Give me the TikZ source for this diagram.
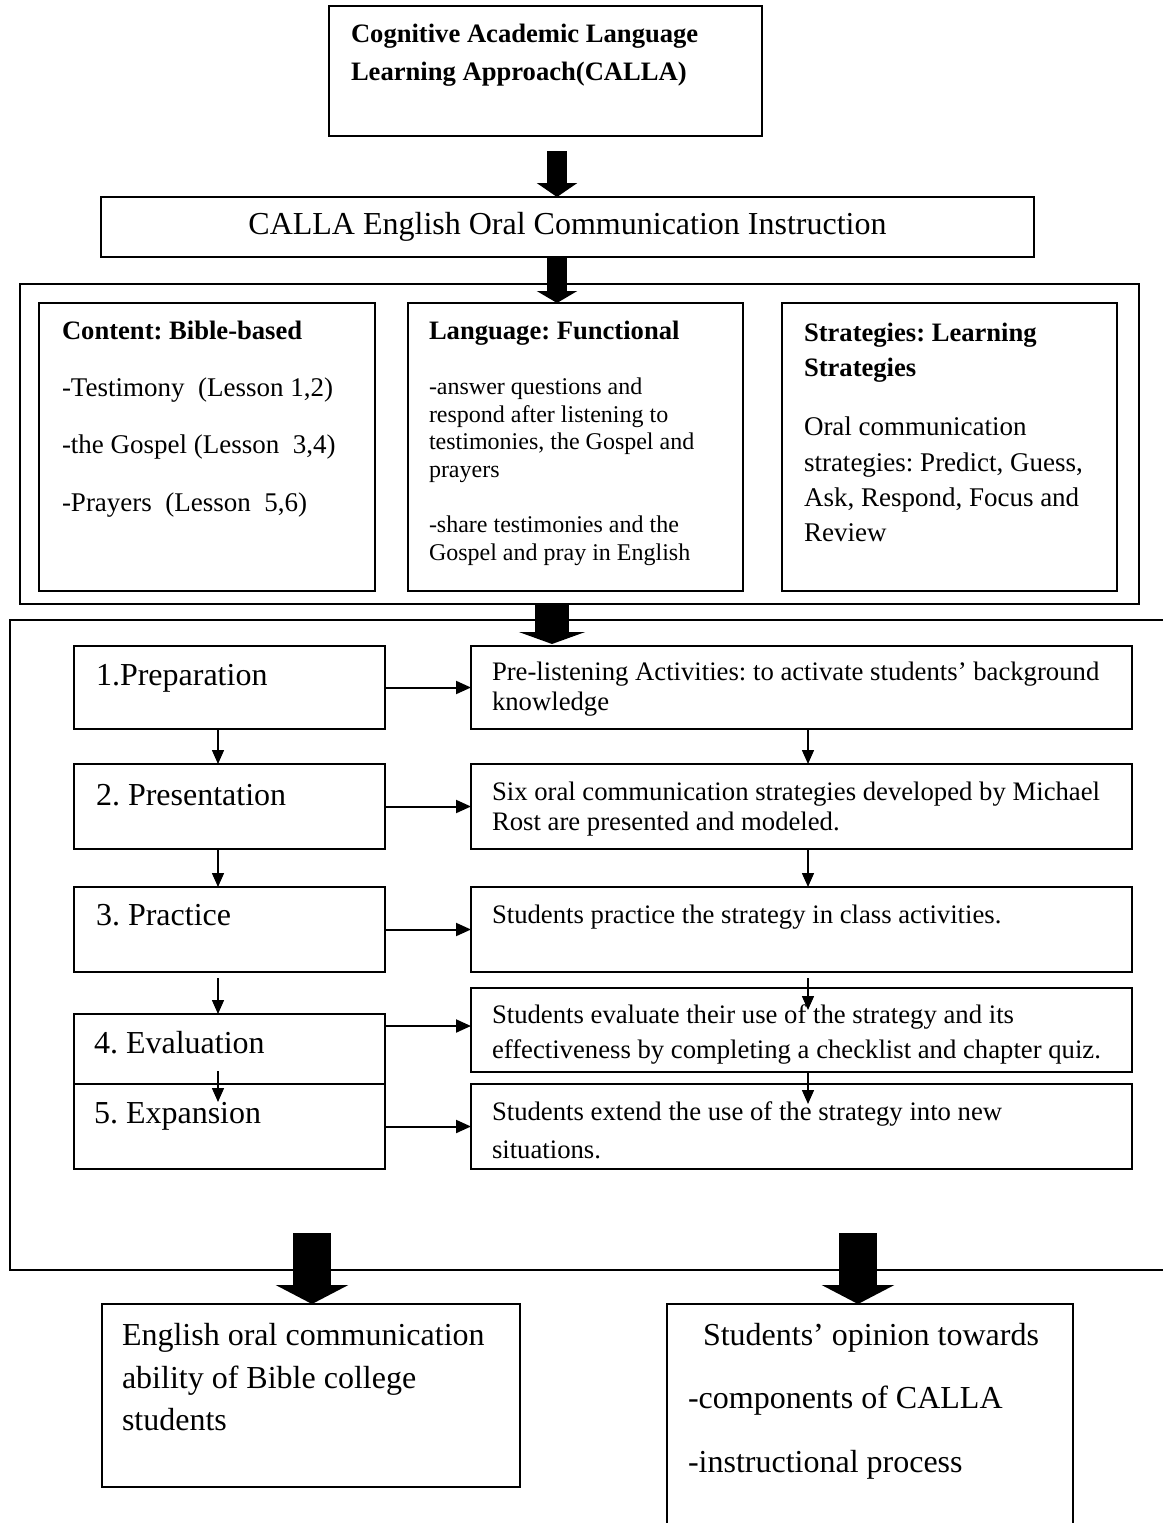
\documentclass[tikz,border=0pt]{standalone}
\usepackage{fontspec}
\setmainfont{Liberation Serif}
\usetikzlibrary{arrows.meta,calc}
\frenchspacing
\newcommand\szT{\fontsize{26.6}{32}\selectfont\bfseries}
\newcommand\szL{\fontsize{32}{38}\selectfont}
\newcommand\szM{\fontsize{27}{32}\selectfont}
\newcommand\szS{\fontsize{24}{28}\selectfont}
\newcommand\szR{\fontsize{26.7}{32}\selectfont}
\begin{document}
\begin{tikzpicture}[x=1pt,y=-1pt,
  bx/.style={draw,line width=1.9pt,inner sep=0pt,outer sep=0pt},
  tx/.style={inner sep=0pt,outer sep=0pt,anchor=base west},
  big/.style n args={3}{line width=#1,-{Triangle[width=#2,length=#3]}},
  sv/.style={line width=1.5pt,-{Triangle[width=12pt,length=14pt]}},
  sh/.style={line width=2pt,-{Triangle[width=13pt,length=15pt]}}]
\fill[white] (0,0) rectangle (1162,1523);
\useasboundingbox (0,0) rectangle (1162,1523);
% boxes
\node[bx,minimum width=433pt,minimum height=130pt] (top) at (545.5,71) {};
\node[bx,minimum width=933pt,minimum height=60pt,font=\szL] (instr) at (567.5,227) {CALLA English Oral Communication Instruction};
\node[bx,minimum width=1119pt,minimum height=320pt] (mid) at (579.5,444) {};
\node[bx,minimum width=336pt,minimum height=288pt] (cont) at (207,447) {};
\node[bx,minimum width=335pt,minimum height=288pt] (lang) at (575.5,447) {};
\node[bx,minimum width=335pt,minimum height=288pt] (strat) at (949.5,447) {};
\node[bx,minimum width=1165pt,minimum height=650pt] (low) at (592.5,945) {};
\node[bx,minimum width=311pt,minimum height=83pt] (s1) at (229.5,687.5) {};
\node[bx,minimum width=311pt,minimum height=85pt] (s2) at (229.5,806.5) {};
\node[bx,minimum width=311pt,minimum height=85pt] (s3) at (229.5,929.5) {};
\node[bx,minimum width=311pt,minimum height=70pt] (s4) at (229.5,1049) {};
\node[bx,minimum width=311pt,minimum height=85pt] (s5) at (229.5,1126.5) {};
\node[bx,minimum width=661pt,minimum height=83pt] (r1) at (801.5,687.5) {};
\node[bx,minimum width=661pt,minimum height=85pt] (r2) at (801.5,806.5) {};
\node[bx,minimum width=661pt,minimum height=85pt] (r3) at (801.5,929.5) {};
\node[bx,minimum width=661pt,minimum height=84pt] (r4) at (801.5,1030) {};
\node[bx,minimum width=661pt,minimum height=85pt] (r5) at (801.5,1126.5) {};
\node[bx,minimum width=418pt,minimum height=183pt] (res1) at (311,1395.5) {};
\node[bx,minimum width=406pt,minimum height=240pt] (res2) at (870,1424) {};
% texts
\node[tx,font=\szT] (t1) at (351,42) {Cognitive Academic Language};
\node[tx,font=\szT] (t2) at (351,80) {Learning Approach(CALLA)};
\node[tx,font=\szT] (c0) at (62,339) {Content: Bible-based};
\node[tx,font=\szM] (c1) at (62,396) {-Testimony\ \ (Lesson 1,2)};
\node[tx,font=\szM] (c2) at (62,453) {-the Gospel (Lesson\ \ 3,4)};
\node[tx,font=\szM] (c3) at (62,511) {-Prayers\ \ (Lesson\ \ 5,6)};
\node[tx,font=\szT] (l0) at (429,339) {Language: Functional};
\node[tx,font=\szS] (l1) at (429,394) {-answer questions and};
\node[tx,font=\szS] (l2) at (429,422) {respond after listening to};
\node[tx,font=\szS] (l3) at (429,449) {testimonies, the Gospel and};
\node[tx,font=\szS] (l4) at (429,477) {prayers};
\node[tx,font=\szS] (l5) at (429,532) {-share testimonies and the};
\node[tx,font=\szS] (l6) at (429,560) {Gospel and pray in English};
\node[tx,font=\szT] (g0) at (804,341) {Strategies: Learning};
\node[tx,font=\szT] (g1) at (804,376) {Strategies};
\node[tx,font=\szM] (g2) at (804,435) {Oral communication};
\node[tx,font=\szM] (g3) at (804,471) {strategies: Predict, Guess,};
\node[tx,font=\szM] (g4) at (804,506) {Ask, Respond, Focus and};
\node[tx,font=\szM] (g5) at (804,541) {Review};
\node[tx,font=\szL] (p1) at (96,685) {1.Preparation};
\node[tx,font=\szL] (p2) at (96,805) {2. Presentation};
\node[tx,font=\szL] (p3) at (96,925) {3. Practice};
\node[tx,font=\szL] (p4) at (94,1053) {4. Evaluation};
\node[tx,font=\szL] (p5) at (94,1123) {5. Expansion};
\node[tx,font=\szR] (q1a) at (492,680) {Pre-listening Activities: to activate students’ background};
\node[tx,font=\szR] (q1b) at (492,710) {knowledge};
\node[tx,font=\szR] (q2a) at (492,800) {Six oral communication strategies developed by Michael};
\node[tx,font=\szR] (q2b) at (492,830) {Rost are presented and modeled.};
\node[tx,font=\szR] (q3) at (492,923) {Students practice the strategy in class activities.};
\node[tx,font=\szR] (q4a) at (492,1023) {Students evaluate their use of the strategy and its};
\node[tx,font=\szR] (q4b) at (492,1058) {effectiveness by completing a checklist and chapter quiz.};
\node[tx,font=\szR] (q5a) at (492,1120) {Students extend the use of the strategy into new};
\node[tx,font=\szR] (q5b) at (492,1158) {situations.};
\node[tx,font=\szL] (e1) at (122,1345) {English oral communication};
\node[tx,font=\szL] (e2) at (122,1388) {ability of Bible college};
\node[tx,font=\szL] (e3) at (122,1430) {students};
\node[tx,font=\szL] (o1) at (703,1345) {Students’ opinion towards};
\node[tx,font=\szL] (o2) at (688,1408) {-components of CALLA};
\node[tx,font=\szL] (o3) at (688,1472) {-instructional process};
% big arrows
\draw[big={20pt}{40pt}{14pt}] ($(top.south)+(11.5,15)$) -- ($(instr.north)+(-10.5,0)$);
\draw[big={20pt}{40pt}{12pt}] ($(instr.south)+(-10.5,0)$) -- ($(lang.north)+(-18.5,0)$);
\draw[big={34pt}{66pt}{12pt}] ($(mid.south)+(-27.5,0)$) -- ($(r1.north)+(-249.5,-2)$);
\draw[big={38pt}{72pt}{19pt}] ($(low.south)+(-280.5,-37)$) -- ($(res1.north)+(1,0)$);
\draw[big={38pt}{72pt}{19pt}] ($(low.south)+(265.5,-37)$) -- ($(res2.north)+(-12,0)$);
% small vertical arrows
\draw[sv] ($(s1.south)+(-11.5,0)$) -- ($(s2.north)+(-11.5,0)$);
\draw[sv] ($(s2.south)+(-11.5,0)$) -- ($(s3.north)+(-11.5,0)$);
\draw[sv] ($(s3.south)+(-11.5,6)$) -- ($(s4.north)+(-11.5,0)$);
\draw[sv] ($(s4.south)+(-11.5,-13)$) -- ($(s5.north)+(-11.5,18)$);
\draw[sv] ($(r1.south)+(6.5,0)$) -- ($(r2.north)+(6.5,0)$);
\draw[sv] ($(r2.south)+(6.5,0)$) -- ($(r3.north)+(6.5,0)$);
\draw[sv] ($(r3.south)+(6.5,6)$) -- ($(r4.north)+(6.5,22)$);
\draw[sv] ($(r4.south)+(6.5,1)$) -- ($(r5.north)+(6.5,20)$);
% horizontal arrows
\draw[sh] (s1.east) -- (r1.west);
\draw[sh] (s2.east) -- (r2.west);
\draw[sh] (s3.east) -- (r3.west);
\draw[sh] ($(s4.east)+(0,-23)$) -- ($(r4.west)+(0,-4)$);
\draw[sh] (s5.east) -- (r5.west);
\end{tikzpicture}
\end{document}
